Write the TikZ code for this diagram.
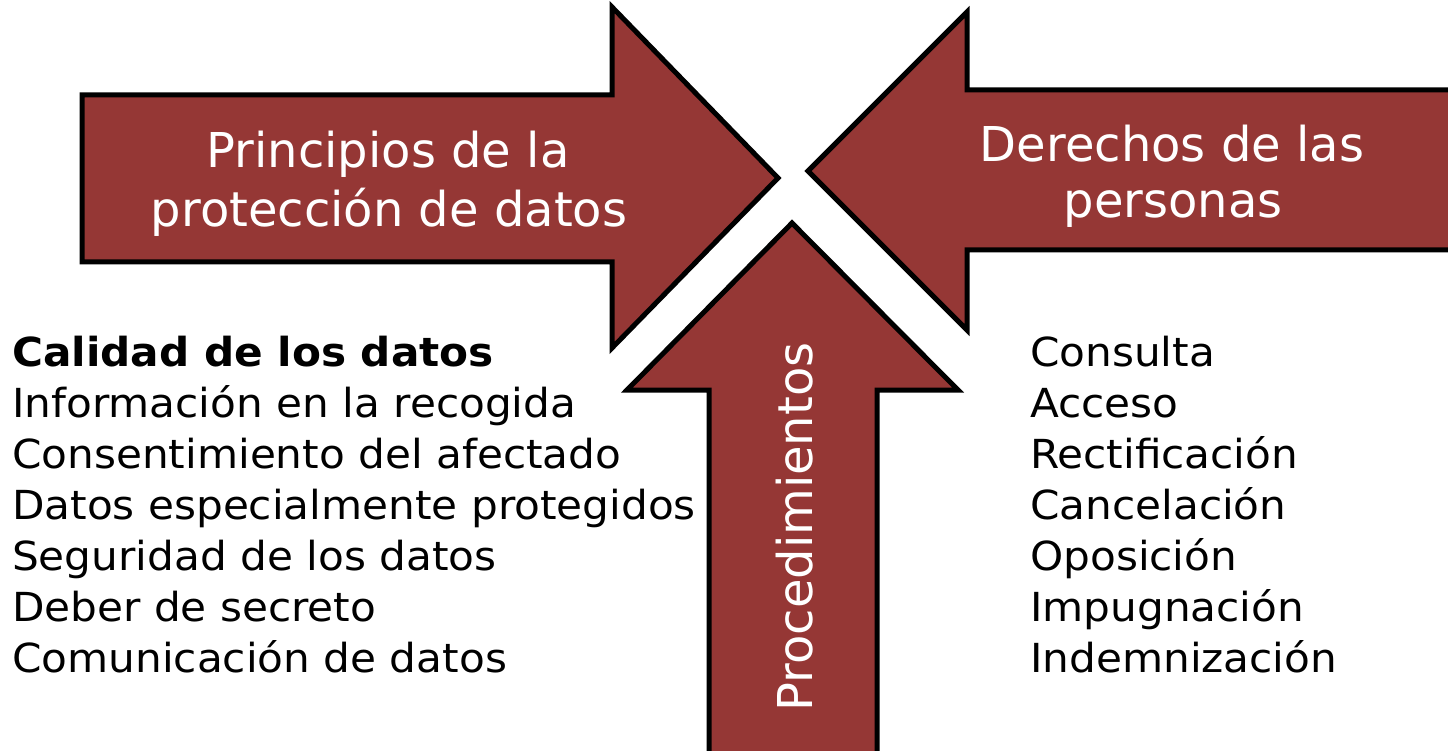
\documentclass[tikz,border=0pt]{standalone}
\usepackage{fontspec}
\usepackage{graphicx}
\setmainfont{DejaVu Sans}
\definecolor{arrowred}{RGB}{149,55,53}
\newcommand{\wide}[1]{\scalebox{1.055}[1]{#1}}
\begin{document}
\begin{tikzpicture}[x=1pt,y=-1pt,
  bigarrow/.style={fill=arrowred,draw=black,line width=5pt,line join=miter},
  arrowlabel/.style={text=white,font=\fontsize{48}{56}\selectfont,anchor=base,inner sep=0pt},
  listitem/.style={text=black,font=\fontsize{40}{51}\selectfont,anchor=base west,inner sep=0pt}]
\useasboundingbox (0,0) rectangle (1448,751);
\clip (0,0) rectangle (1448,751);
% left arrow
\draw[bigarrow] (82,95) -- (612,95) -- (612,7) -- (778,178) -- (612,348) -- (612,262) -- (82,262) -- cycle;
% right arrow
\draw[bigarrow] (1470,90) -- (967,90) -- (967,12) -- (808,171) -- (967,330) -- (967,250) -- (1470,250);
% bottom arrow
\draw[bigarrow] (709,770) -- (709,390) -- (627,390) -- (792,223) -- (958,390) -- (877,390) -- (877,770);
% labels
\node[arrowlabel] (pa) at (388,168) {Principios de la};
\node[arrowlabel] (pb) at (389,227) {protección de datos};
\node[arrowlabel] (da) at (1172,162) {Derechos de las};
\node[arrowlabel] (db) at (1173,218) {personas};
\node[arrowlabel,rotate=90] (proc) at (812,527) {Procedimientos};
% left list
\node[listitem,font=\fontsize{40}{51}\selectfont\bfseries] (l1) at (12,366) {\wide{Calidad de los datos}};
\node[listitem] (l2) at (12,417) {\wide{Información en la recogida}};
\node[listitem] (l3) at (12,468) {\wide{Consentimiento del afectado}};
\node[listitem] (l4) at (12,519) {\wide{Datos especialmente protegidos}};
\node[listitem] (l5) at (12,570) {\wide{Seguridad de los datos}};
\node[listitem] (l6) at (12,621) {\wide{Deber de secreto}};
\node[listitem] (l7) at (12,672) {\wide{Comunicación de datos}};
% right list
\node[listitem] (r1) at (1030,366) {\wide{Consulta}};
\node[listitem] (r2) at (1030,417) {\wide{Acceso}};
\node[listitem] (r3) at (1030,468) {\wide{Rectificación}};
\node[listitem] (r4) at (1030,519) {\wide{Cancelación}};
\node[listitem] (r5) at (1030,570) {\wide{Oposición}};
\node[listitem] (r6) at (1030,621) {\wide{Impugnación}};
\node[listitem] (r7) at (1030,672) {\wide{Indemnización}};
\end{tikzpicture}
\end{document}
